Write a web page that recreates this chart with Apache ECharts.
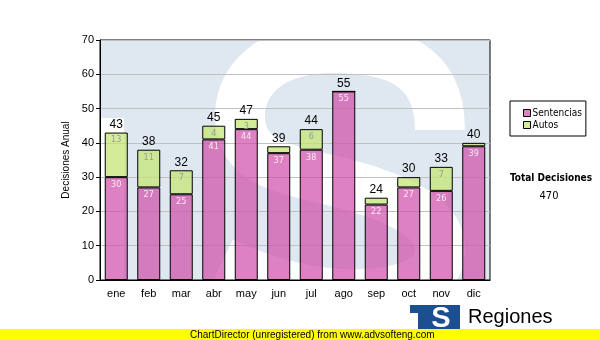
<!DOCTYPE html>
<html>
<head>
<meta charset="utf-8">
<script src="https://cdn.jsdelivr.net/npm/echarts@6/dist/echarts.min.js"></script>
<style>
  html, body { margin: 0; padding: 0; background: #fff; }
  #chart { width: 600px; height: 340px; }
</style>
</head>
<body>
<div id="chart"></div>
<script>
// Monthly decisions, split into judgements (sentencias) and rulings (autos)
const months = ['ene', 'feb', 'mar', 'abr', 'may', 'jun', 'jul', 'ago', 'sep', 'oct', 'nov', 'dic'];
const sentencias = [30, 27, 25, 41, 44, 37, 38, 55, 22, 27, 26, 39];
const autos = [13, 11, 7, 4, 3, 2, 6, 0, 2, 3, 7, 1];
// Months whose autos segment is drawn without an inner value label
const autosUnlabelled = ['jun', 'ago', 'sep', 'oct', 'dic'];
const yTicks = [0, 10, 20, 30, 40, 50, 60, 70];

const totals = sentencias.map((v, i) => v + autos[i]);
const grandTotal = totals.reduce((a, b) => a + b, 0);

const G = { left: 100, top: 40, width: 390, height: 240 };
const axisFont = 'Liberation Sans, Arial, sans-serif';
const boxFont = 'DejaVu Sans Condensed, DejaVu Sans, sans-serif';

const chart = echarts.init(document.getElementById('chart'), null, { renderer: 'canvas' });

// Faint logo behind the plot: a "T" and an "S" block in pale blue with a white S stroke
const paleBlue = '#dfe8f1';
const sStroke = { fill: null, stroke: '#ffffff', lineWidth: 50, lineCap: 'butt' };
const sCurves = [
  [440, 130, 440, 62, 390, 48, 333, 48],
  [333, 48, 268, 48, 238, 82, 240, 120],
  [240, 120, 243, 170, 300, 170, 360, 188],
  [360, 188, 425, 208, 448, 232, 438, 262],
  [438, 262, 425, 300, 320, 310, 222, 262]
];
const watermark = [
  { type: 'rect', z: -5, silent: true, shape: { x: 100, y: 40, width: 118, height: 78 }, style: { fill: paleBlue } },
  { type: 'rect', z: -5, silent: true, shape: { x: 124, y: 40, width: 90, height: 240 }, style: { fill: paleBlue } },
  { type: 'rect', z: -5, silent: true, shape: { x: 214, y: 40, width: 276, height: 240 }, style: { fill: paleBlue } }
].concat(sCurves.map(c => ({
  type: 'bezierCurve', z: -4, silent: true,
  shape: { x1: c[0], y1: c[1], cpx1: c[2], cpy1: c[3], cpx2: c[4], cpy2: c[5], x2: c[6], y2: c[7] },
  style: sStroke
})));

// Footer: organisation logo and the library banner
const footer = [
  { type: 'rect', silent: true, shape: { x: 410, y: 305, width: 50, height: 25 }, style: { fill: '#1b4f91' } },
  { type: 'rect', silent: true, shape: { x: 410, y: 313, width: 8, height: 17 }, style: { fill: '#ffffff' } },
  { type: 'text', silent: true, style: { x: 441, y: 319, text: 'S', fill: '#ffffff', font: 'bold 29px Liberation Sans, Arial, sans-serif', align: 'center', verticalAlign: 'middle' } },
  { type: 'text', silent: true, style: { x: 468, y: 317, text: 'Regiones', fill: '#000000', font: '20px Liberation Sans, Arial, sans-serif', align: 'left', verticalAlign: 'middle' } },
  { type: 'rect', silent: true, z: 10, shape: { x: 0, y: 329, width: 600, height: 11 }, style: { fill: '#ffff00' } },
  { type: 'text', silent: true, z: 11, style: { x: 190, y: 335, text: 'ChartDirector (unregistered) from www.advsofteng.com', fill: '#000000', font: '10px Liberation Sans, Arial, sans-serif', align: 'left', verticalAlign: 'middle' } }
];

// Total of all decisions beside the legend
const summary = [
  { type: 'text', silent: true, style: { x: 551, y: 178, text: 'Total Decisiones', fill: '#000000', font: 'bold 10px ' + boxFont, align: 'center', verticalAlign: 'middle' } },
  { type: 'text', silent: true, style: { x: 549, y: 196, text: String(grandTotal), fill: '#000000', font: '11px ' + boxFont, align: 'center', verticalAlign: 'middle' } }
];

const option = {
  animation: false,
  backgroundColor: '#ffffff',
  textStyle: { fontFamily: axisFont },
  grid: {
    left: G.left, top: G.top, width: G.width, height: G.height,
    show: true, borderColor: '#000000', borderWidth: 1, backgroundColor: 'transparent', z: 0
  },
  legend: {
    orient: 'vertical',
    left: 510, top: 101,
    padding: [7, 4, 6, 13],
    itemGap: 2,
    itemWidth: 7, itemHeight: 7,
    borderColor: '#000000', borderWidth: 1,
    backgroundColor: '#ffffff',
    icon: 'rect',
    itemStyle: { borderColor: '#000000', borderWidth: 1 },
    textStyle: { fontFamily: boxFont, fontSize: 10, color: '#000000', padding: [0, 0, 0, -3] },
    data: ['Sentencias', 'Autos']
  },
  xAxis: {
    type: 'category',
    data: months,
    axisLine: { lineStyle: { color: '#000000', width: 1 } },
    axisTick: { alignWithLabel: true, length: 4, lineStyle: { color: '#000000' } },
    axisLabel: { color: '#000000', fontSize: 11, margin: 8, fontFamily: axisFont },
    splitLine: { show: false }
  },
  yAxis: {
    type: 'value',
    min: yTicks[0], max: yTicks[yTicks.length - 1], interval: 10,
    name: 'Decisiones Anual',
    nameLocation: 'middle',
    nameGap: 22,
    nameRotate: 90,
    nameTextStyle: { color: '#000000', fontSize: 10, fontFamily: axisFont },
    axisLine: { show: true, lineStyle: { color: '#000000' } },
    axisTick: { show: true, length: 4, lineStyle: { color: '#000000' } },
    axisLabel: { color: '#000000', fontSize: 11, margin: 6, fontFamily: axisFont },
    splitLine: { show: true, lineStyle: { color: '#c0c0c0', width: 1 } }
  },
  series: [
    {
      name: 'Sentencias',
      type: 'bar',
      stack: 'dec',
      data: sentencias,
      barWidth: 23,
      itemStyle: { color: 'rgba(208, 80, 170, 0.72)', borderColor: '#000000', borderWidth: 1 },
      label: {
        show: true, position: 'insideTop', distance: 3,
        color: '#fbeaf4', fontSize: 9, fontFamily: boxFont
      },
      z: 3
    },
    {
      name: 'Autos',
      type: 'bar',
      stack: 'dec',
      data: autos.map((v, i) => ({
        value: v,
        label: { show: autosUnlabelled.indexOf(months[i]) < 0 }
      })),
      barWidth: 23,
      itemStyle: { color: 'rgba(195, 228, 112, 0.72)', borderColor: '#000000', borderWidth: 1 },
      label: {
        show: true, position: 'insideTop', distance: 3,
        color: '#9a9a9a', fontSize: 9, fontFamily: boxFont
      },
      z: 3
    },
    {
      name: 'Total',
      type: 'bar',
      stack: 'dec',
      data: totals.map(() => 0),
      barWidth: 23,
      itemStyle: { color: 'transparent', borderWidth: 0 },
      label: {
        show: true, position: 'top', distance: 2,
        color: '#000000', fontSize: 12, fontFamily: axisFont,
        formatter: p => String(totals[p.dataIndex])
      },
      z: 4
    }
  ],
  graphic: watermark.concat(footer, summary)
};

chart.setOption(option);
</script>
</body>
</html>
